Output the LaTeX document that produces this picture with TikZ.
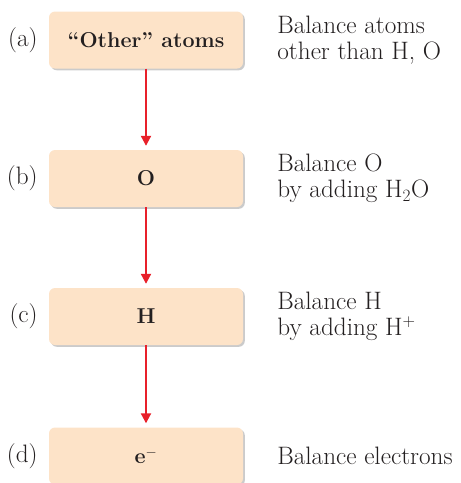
\documentclass[tikz,border=0pt]{standalone}
\usepackage{tikz}
\usetikzlibrary{arrows.meta,shadows,positioning}
\definecolor{boxfill}{HTML}{FDE3C8}
\definecolor{flowred}{HTML}{E8202A}
\definecolor{inkgray}{HTML}{231F20}

\begin{document}
\begin{tikzpicture}[x=1pt,y=-1pt,
  every node/.style={font=\fontsize{25.2}{26}\selectfont,text=inkgray,inner sep=0pt},
  stepbox/.style={rounded corners=6pt,fill=boxfill,minimum width=194pt,minimum height=57pt,
    font=\fontsize{21.5}{26}\selectfont\bfseries,
    drop shadow={shadow xshift=1.8pt,shadow yshift=-1.8pt,opacity=0.45,fill=black!45}},
  desc/.style={align=left},
  flow/.style={draw=flowred,line width=2pt,-{Triangle[length=10pt,width=10pt]},shorten >=4pt}]
  \useasboundingbox (0,0) rectangle (461,483);
  % the four steps
  \node[stepbox] (other) at (146,40) {``Other'' atoms};
  \node[stepbox] (oxy) at (146,178.5) {O};
  \node[stepbox] (hyd) at (146,316.5) {H};
  \node[stepbox] (elec) at (146,456) {e$^-$};
  % letters on the left
  \node[left=11pt of other] (la) {(a)};
  \node[left=11pt of oxy] (lb) {(b)};
  \node[left=11pt of hyd] (lc) {(c)};
  \node[left=11pt of elec] (ld) {(d)};
  % what each step does
  \node[desc,right=34pt of other] (da) {Balance atoms\\other than H, O};
  \node[desc,right=34pt of oxy] (db) {Balance O\\by adding H$_2$O};
  \node[desc,right=34pt of hyd] (dc) {Balance H\\by adding H$^+$};
  \node[desc,right=34pt of elec] (dd) {Balance electrons};
  % arrows down
  \draw[flow] (other) -- (oxy);
  \draw[flow] (oxy) -- (hyd);
  \draw[flow] (hyd) -- (elec);
\end{tikzpicture}
\end{document}
